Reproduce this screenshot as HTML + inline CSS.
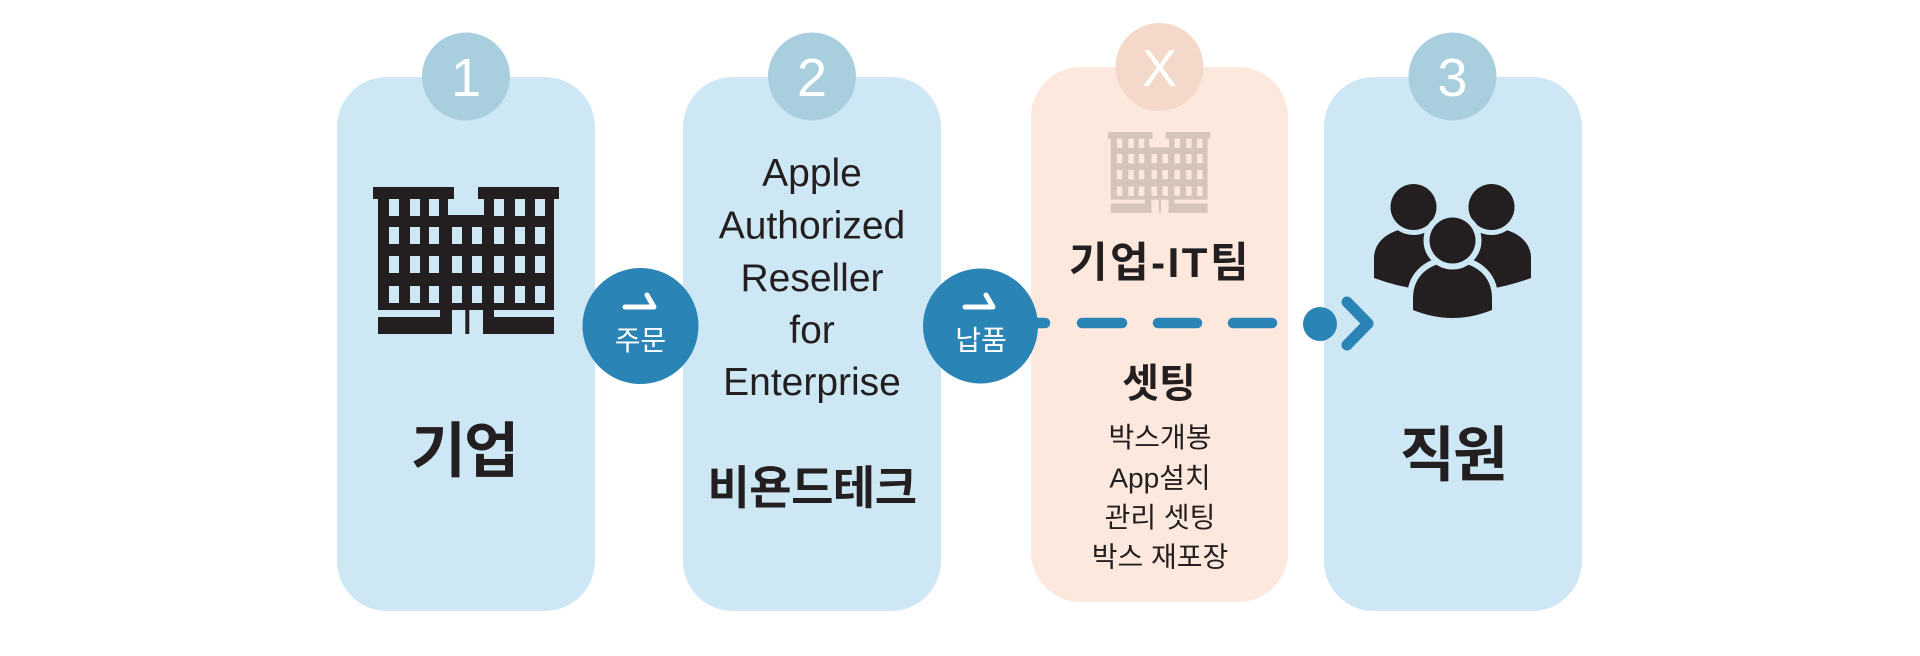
<!DOCTYPE html>
<html>
<head>
<meta charset="utf-8">
<style>
  html,body{margin:0;padding:0;background:#ffffff;}
  body{width:1920px;height:656px;overflow:hidden;}
  svg{display:block;}
  text{font-family:"Liberation Sans","Noto Sans CJK KR",sans-serif;}
</style>
</head>
<body>
<svg width="1920" height="656" viewBox="0 0 1920 656" xmlns="http://www.w3.org/2000/svg">
  <!-- Cards -->
  <rect x="337" y="77" width="258" height="534" rx="50" fill="#cde8f4"/>
  <rect x="683" y="77" width="258" height="534" rx="50" fill="#cde8f4"/>
  <rect x="1031" y="67" width="257" height="535" rx="50" fill="#fde8de"/>
  <rect x="1324" y="77" width="258" height="534" rx="50" fill="#cde8f4"/>

  <!-- Number circles -->
  <circle cx="466" cy="76.5" r="44" fill="#a9cfdf"/>
  <circle cx="812" cy="76.5" r="44" fill="#a9cfdf"/>
  <circle cx="1159.5" cy="67" r="44" fill="#f4d9ca"/>
  <circle cx="1452.5" cy="76.5" r="44" fill="#a9cfdf"/>
  <text x="466" y="96" font-size="54" fill="#ffffff" text-anchor="middle">1</text>
  <text x="812" y="96" font-size="54" fill="#ffffff" text-anchor="middle">2</text>
  <text x="1159.5" y="86" font-size="52" fill="#ffffff" text-anchor="middle">X</text>
  <text x="1452.5" y="96" font-size="54" fill="#ffffff" text-anchor="middle">3</text>

  <!-- Big building (card 1) -->
  <g fill="#231f20">
    <rect x="373" y="187" width="81" height="12"/>
    <rect x="478" y="187" width="81" height="12"/>
    <rect x="378" y="199" width="70" height="111"/>
    <rect x="484" y="199" width="70" height="111"/>
    <rect x="447" y="215" width="38" height="95"/>
    <rect x="378" y="317" width="74" height="17"/>
    <rect x="440" y="309" width="12" height="9"/>
    <rect x="483" y="317" width="71" height="17"/>
    <rect x="483" y="309" width="11" height="9"/>
    <rect x="465.3" y="309" width="4" height="25"/>
  </g>
  <g fill="#cde8f4">
    <rect x="389" y="199" width="10" height="17"/><rect x="410" y="199" width="10" height="17"/><rect x="429" y="199" width="10" height="17"/>
    <rect x="494" y="199" width="10" height="17"/><rect x="515" y="199" width="10" height="17"/><rect x="535" y="199" width="10" height="17"/>
    <rect x="389" y="227" width="10" height="17"/><rect x="410" y="227" width="10" height="17"/><rect x="429" y="227" width="10" height="17"/><rect x="452" y="227" width="10" height="17"/><rect x="472" y="227" width="10" height="17"/><rect x="494" y="227" width="10" height="17"/><rect x="515" y="227" width="10" height="17"/><rect x="535" y="227" width="10" height="17"/>
    <rect x="389" y="256" width="10" height="17"/><rect x="410" y="256" width="10" height="17"/><rect x="429" y="256" width="10" height="17"/><rect x="452" y="256" width="10" height="17"/><rect x="472" y="256" width="10" height="17"/><rect x="494" y="256" width="10" height="17"/><rect x="515" y="256" width="10" height="17"/><rect x="535" y="256" width="10" height="17"/>
    <rect x="389" y="286" width="10" height="17"/><rect x="410" y="286" width="10" height="17"/><rect x="429" y="286" width="10" height="17"/><rect x="452" y="286" width="10" height="17"/><rect x="472" y="286" width="10" height="17"/><rect x="494" y="286" width="10" height="17"/><rect x="515" y="286" width="10" height="17"/><rect x="535" y="286" width="10" height="17"/>
  </g>

  <!-- Small building (card X) -->
  <g transform="translate(902.85,29.15) scale(0.55)">
    <g fill="#d4c4ba">
      <rect x="373" y="187" width="81" height="12"/>
      <rect x="478" y="187" width="81" height="12"/>
      <rect x="378" y="199" width="70" height="111"/>
      <rect x="484" y="199" width="70" height="111"/>
      <rect x="447" y="215" width="38" height="95"/>
      <rect x="378" y="317" width="74" height="17"/>
      <rect x="440" y="309" width="12" height="9"/>
      <rect x="483" y="317" width="71" height="17"/>
      <rect x="483" y="309" width="11" height="9"/>
      <rect x="465.3" y="309" width="4" height="25"/>
    </g>
    <g fill="#fde8de">
      <rect x="389" y="199" width="10" height="17"/><rect x="410" y="199" width="10" height="17"/><rect x="429" y="199" width="10" height="17"/>
      <rect x="494" y="199" width="10" height="17"/><rect x="515" y="199" width="10" height="17"/><rect x="535" y="199" width="10" height="17"/>
      <rect x="389" y="227" width="10" height="17"/><rect x="410" y="227" width="10" height="17"/><rect x="429" y="227" width="10" height="17"/><rect x="452" y="227" width="10" height="17"/><rect x="472" y="227" width="10" height="17"/><rect x="494" y="227" width="10" height="17"/><rect x="515" y="227" width="10" height="17"/><rect x="535" y="227" width="10" height="17"/>
      <rect x="389" y="256" width="10" height="17"/><rect x="410" y="256" width="10" height="17"/><rect x="429" y="256" width="10" height="17"/><rect x="452" y="256" width="10" height="17"/><rect x="472" y="256" width="10" height="17"/><rect x="494" y="256" width="10" height="17"/><rect x="515" y="256" width="10" height="17"/><rect x="535" y="256" width="10" height="17"/>
      <rect x="389" y="286" width="10" height="17"/><rect x="410" y="286" width="10" height="17"/><rect x="429" y="286" width="10" height="17"/><rect x="452" y="286" width="10" height="17"/><rect x="472" y="286" width="10" height="17"/><rect x="494" y="286" width="10" height="17"/><rect x="515" y="286" width="10" height="17"/><rect x="535" y="286" width="10" height="17"/>
    </g>
  </g>

  <!-- People icon (card 3) -->
  <g fill="#231f20" stroke="#cde8f4" paint-order="stroke">
    <path d="M1374,278 L1374,258 C1374,240 1392,228 1413.5,228 C1435,228 1453,242 1453,262 L1453,292 Q1412,292 1374,278 Z" stroke="none"/>
    <path d="M1531,278 L1531,258 C1531,240 1513,228 1491.5,228 C1470,228 1452,242 1452,262 L1452,292 Q1493,292 1531,278 Z" stroke="none"/>
    <circle cx="1413.5" cy="207" r="23" stroke-width="10"/>
    <circle cx="1491.5" cy="207" r="23" stroke-width="10"/>
    <path d="M1413,310 L1413,298 C1413,275 1431,262 1452.5,262 C1474,262 1492,275 1492,298 L1492,310 Q1452.5,326 1413,310 Z" stroke-width="12"/>
    <circle cx="1452.5" cy="240.5" r="23" stroke-width="12"/>
  </g>

  <!-- Dashed connector -->
  <g stroke="#2a84b6" stroke-width="10.5" stroke-linecap="round" fill="none">
    <line x1="1030" y1="323" x2="1045" y2="323"/>
    <line x1="1082" y1="323" x2="1122" y2="323"/>
    <line x1="1158" y1="323" x2="1197" y2="323"/>
    <line x1="1233" y1="323" x2="1272" y2="323"/>
    <polyline points="1347,302 1368,323.5 1347,345" stroke-width="11" stroke-linejoin="round"/>
  </g>
  <circle cx="1320" cy="324" r="17" fill="#2a84b6"/>

  <!-- Blue action circles -->
  <circle cx="640.5" cy="326" r="58" fill="#2a84b6"/>
  <circle cx="980.5" cy="326" r="57.5" fill="#2a84b6"/>
  <g stroke="#ffffff" stroke-width="5" stroke-linecap="round" stroke-linejoin="round" fill="none">
    <polyline points="625,307 654,307 647,295"/>
    <polyline points="965,307 993,307 986,295"/>
  </g>
  <text x="640.5" y="350" font-size="28" fill="#ffffff" text-anchor="middle">주문</text>
  <text x="981" y="350" font-size="28" fill="#ffffff" text-anchor="middle">납품</text>

  <!-- Card 1 text -->
  <text x="464" y="472" font-size="60" font-weight="bold" fill="#231f20" text-anchor="middle" letter-spacing="-2">기업</text>

  <!-- Card 2 text -->
  <g font-size="39" fill="#231f20" text-anchor="middle">
    <text x="812" y="186">Apple</text>
    <text x="812" y="238.5">Authorized</text>
    <text x="812" y="291">Reseller</text>
    <text x="812" y="343">for</text>
    <text x="812" y="395">Enterprise</text>
  </g>
  <text x="812" y="504" font-size="46" font-weight="bold" fill="#231f20" text-anchor="middle" letter-spacing="-0.5">비욘드테크</text>

  <!-- Card X text -->
  <text x="1160" y="277" font-size="42" font-weight="bold" fill="#231f20" text-anchor="middle" letter-spacing="2.5">기업-IT팀</text>
  <text x="1159" y="397" font-size="40" font-weight="bold" fill="#231f20" text-anchor="middle">셋팅</text>
  <g font-size="28" fill="#231f20" text-anchor="middle">
    <text x="1160" y="447">박스개봉</text>
    <text x="1160" y="487.5">App설치</text>
    <text x="1160" y="527">관리 셋팅</text>
    <text x="1160" y="566.5">박스 재포장</text>
  </g>

  <!-- Card 3 text -->
  <text x="1453" y="476" font-size="60" font-weight="bold" fill="#231f20" text-anchor="middle" letter-spacing="-2">직원</text>
</svg>
</body>
</html>
